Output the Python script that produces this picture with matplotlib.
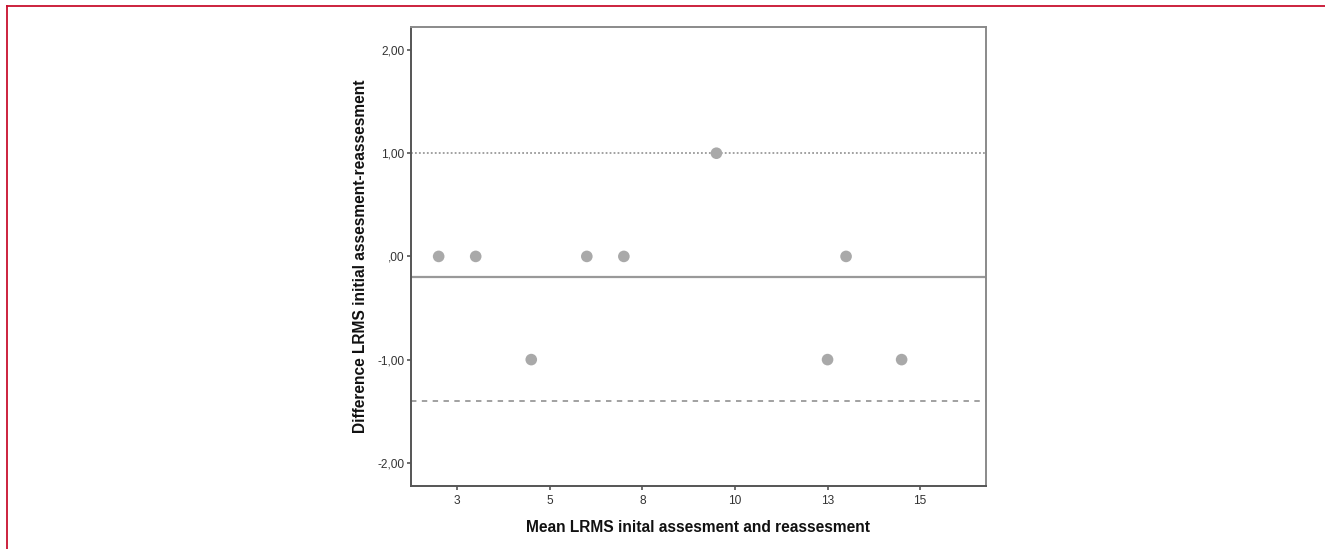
import matplotlib
matplotlib.use('Agg')
import matplotlib.pyplot as plt
from matplotlib.lines import Line2D


# Bland-Altman data
mean_lrms = [2.0, 3.0, 4.5, 6.0, 7.0, 9.5, 12.5, 13.0, 14.5]
diff_lrms = [0, 0, -1, 0, 0, 1, -1, 0, -1]
mean_diff = -0.2
upper_loa = 1.0
lower_loa = -1.4

x_ticks = [2.5, 5.0, 7.5, 10.0, 12.5, 15.0]
x_tick_labels = ['3', '5', '8', '10', '13', '15']
y_ticks = [2, 1, 0, -1, -2]
y_tick_labels = ['2,00', '1,00', ',00', '-1,00', '-2,00']

plt.rcParams['font.family'] = ['Liberation Sans', 'DejaVu Sans']


def main():
    fig = plt.figure(figsize=(13.25, 5.49), dpi=100)
    W, H = 1325, 549
    ax = fig.add_axes([410.7 / W, 1 - 485.5 / H, (985.7 - 410.7) / W, (485.5 - 26.7) / H])

    ax.axhline(upper_loa, color='#9a9a9a', lw=1.3, ls=(0, (1, 1.2)), zorder=1)
    ax.axhline(mean_diff, color='#999999', lw=1.6, zorder=1)
    ax.axhline(lower_loa, color='#9a9a9a', lw=1.3, ls=(0, (3, 3)), zorder=1)
    ax.scatter(mean_lrms, diff_lrms, s=70, color='#a9a9a9', edgecolor='none', zorder=3)

    ax.set_xlim(1.245, 16.77)
    ax.set_ylim(-2.22, 2.226)
    ax.set_xticks(x_ticks)
    ax.set_xticklabels(x_tick_labels)
    ax.set_yticks(y_ticks)
    ax.set_yticklabels(y_tick_labels)
    ax.tick_params(axis='both', direction='out', length=3, width=1.2, color='#555555',
                   labelsize=8.6, labelcolor='#333333', pad=1.5)
    ax.tick_params(axis='x', pad=4)

    for side in ['left', 'bottom']:
        ax.spines[side].set_color('#555555')
        ax.spines[side].set_linewidth(1.4)
    for side in ['top', 'right']:
        ax.spines[side].set_color('#8a8a8a')
        ax.spines[side].set_linewidth(1.4)

    ax.set_xlabel('Mean LRMS inital assesment and reassesment', fontsize=11.2,
                  fontweight='bold', color='#111111', labelpad=9)
    ax.set_ylabel('Difference LRMS initial assesment-reassesment', fontsize=11.2,
                  fontweight='bold', color='#111111', labelpad=7)

    # red frame lines around the figure panel
    fig.add_artist(Line2D([7.5 / W, 1], [1 - 6 / H, 1 - 6 / H], color='#c8102e', lw=1.3,
                          transform=fig.transFigure))
    fig.add_artist(Line2D([7.5 / W, 7.5 / W], [0, 1 - 6 / H], color='#c8102e', lw=1.3,
                          transform=fig.transFigure))

    fig.savefig('out.png', dpi=100, facecolor='white')
    plt.close(fig)


if __name__ == '__main__':
    main()
